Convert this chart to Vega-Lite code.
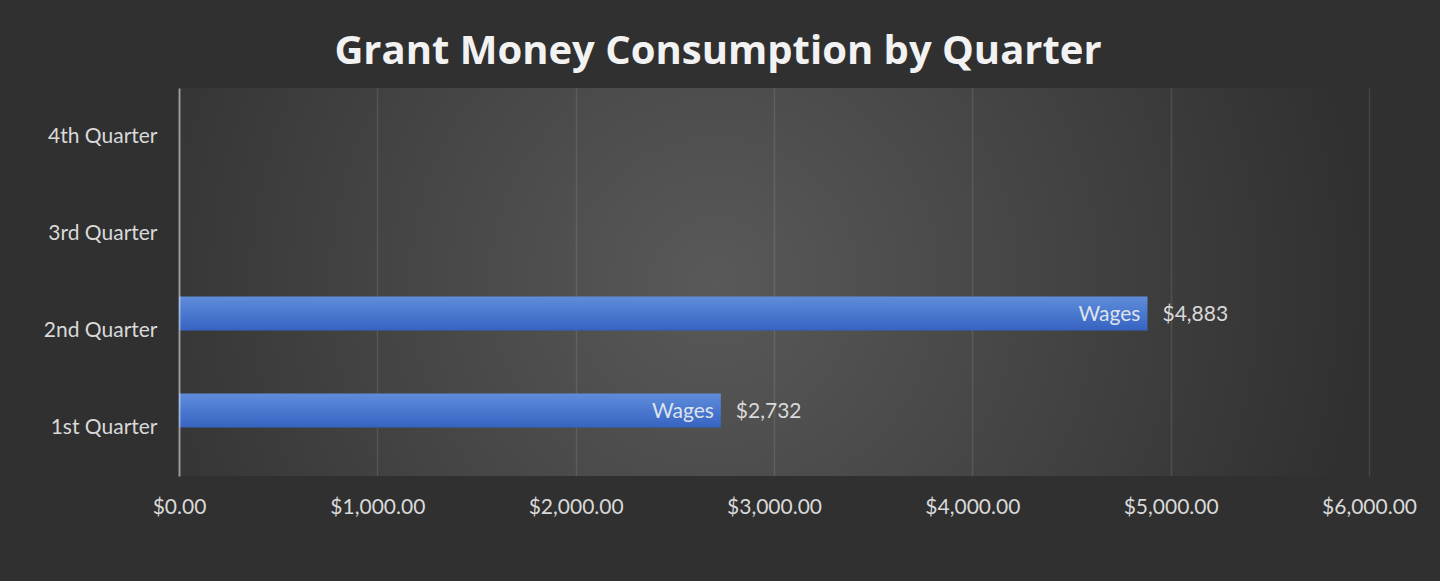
{
  "$schema": "https://vega.github.io/schema/vega-lite/v6.json",
  "width": 1190,
  "height": 388,
  "autosize": {"type": "none"},
  "padding": {"left": 179, "top": 88, "right": 71, "bottom": 105},
  "background": "#303030",
  "title": {
    "text": "Grant Money Consumption by Quarter",
    "font": "Open Sans",
    "fontSize": 40,
    "fontWeight": "bold",
    "color": "#f2f2f2",
    "anchor": "middle",
    "dx": -56,
    "offset": 16
  },
  "data": {
    "values": [
      {"quarter": "1st Quarter", "category": "Wages", "amount": 2732},
      {"quarter": "2nd Quarter", "category": "Wages", "amount": 4883}
    ]
  },
  "encoding": {
    "y": {
      "field": "quarter",
      "type": "nominal",
      "scale": {"domain": ["4th Quarter", "3rd Quarter", "2nd Quarter", "1st Quarter"], "paddingInner": 0.3, "paddingOuter": 0.15},
      "axis": {
        "title": null,
        "ticks": false,
        "tickSize": 0,
        "labelPadding": 22,
        "labelFont": "Lato",
        "labelFontSize": 21,
        "labelColor": "#d9d9d9",
        "domainColor": "#ffffff",
        "domainOpacity": 0.45,
        "domainWidth": 2,
        "grid": false,
        "zindex": 1
      }
    },
    "yOffset": {
      "field": "category",
      "type": "nominal",
      "scale": {"domain": ["Wages", "Other"], "paddingInner": 0, "paddingOuter": 0}
    },
    "x": {
      "field": "amount",
      "type": "quantitative",
      "scale": {"domain": [0, 6000], "nice": false},
      "axis": {
        "title": null,
        "values": [0, 1000, 2000, 3000, 4000, 5000, 6000],
        "format": "$,.2f",
        "domain": false,
        "ticks": false,
        "tickSize": 0,
        "labelFlush": false,
        "labelPadding": 20,
        "labelFont": "Lato",
        "labelFontSize": 21,
        "labelColor": "#d9d9d9",
        "grid": true,
        "gridColor": "#ffffff",
        "gridOpacity": 0.1,
        "gridWidth": 1.5
      }
    }
  },
  "layer": [
    {
      "mark": {
        "type": "bar",
        "color": {
          "gradient": "linear",
          "x1": 0, "y1": 0, "x2": 0, "y2": 1,
          "stops": [
            {"offset": 0, "color": "#5f8ddb"},
            {"offset": 1, "color": "#3663c1"}
          ]
        }
      }
    },
    {
      "mark": {"type": "text", "align": "right", "baseline": "middle", "dx": -7, "dy": 1, "font": "Lato", "fontSize": 21, "color": "#dde3ee"},
      "encoding": {"text": {"field": "category"}}
    },
    {
      "mark": {"type": "text", "align": "left", "baseline": "middle", "dx": 15, "dy": 1, "font": "Lato", "fontSize": 21, "color": "#d9d9d9"},
      "encoding": {"text": {"field": "amount", "type": "quantitative", "format": "$,.0f"}}
    }
  ],
  "config": {
    "font": "Lato",
    "view": {
      "stroke": null,
      "fill": {
        "gradient": "radial",
        "x1": 0.45, "y1": 0.5, "r1": 0,
        "x2": 0.45, "y2": 0.5, "r2": 0.55,
        "stops": [
          {"offset": 0, "color": "#595959"},
          {"offset": 1, "color": "#303030"}
        ]
      }
    }
  }
}
